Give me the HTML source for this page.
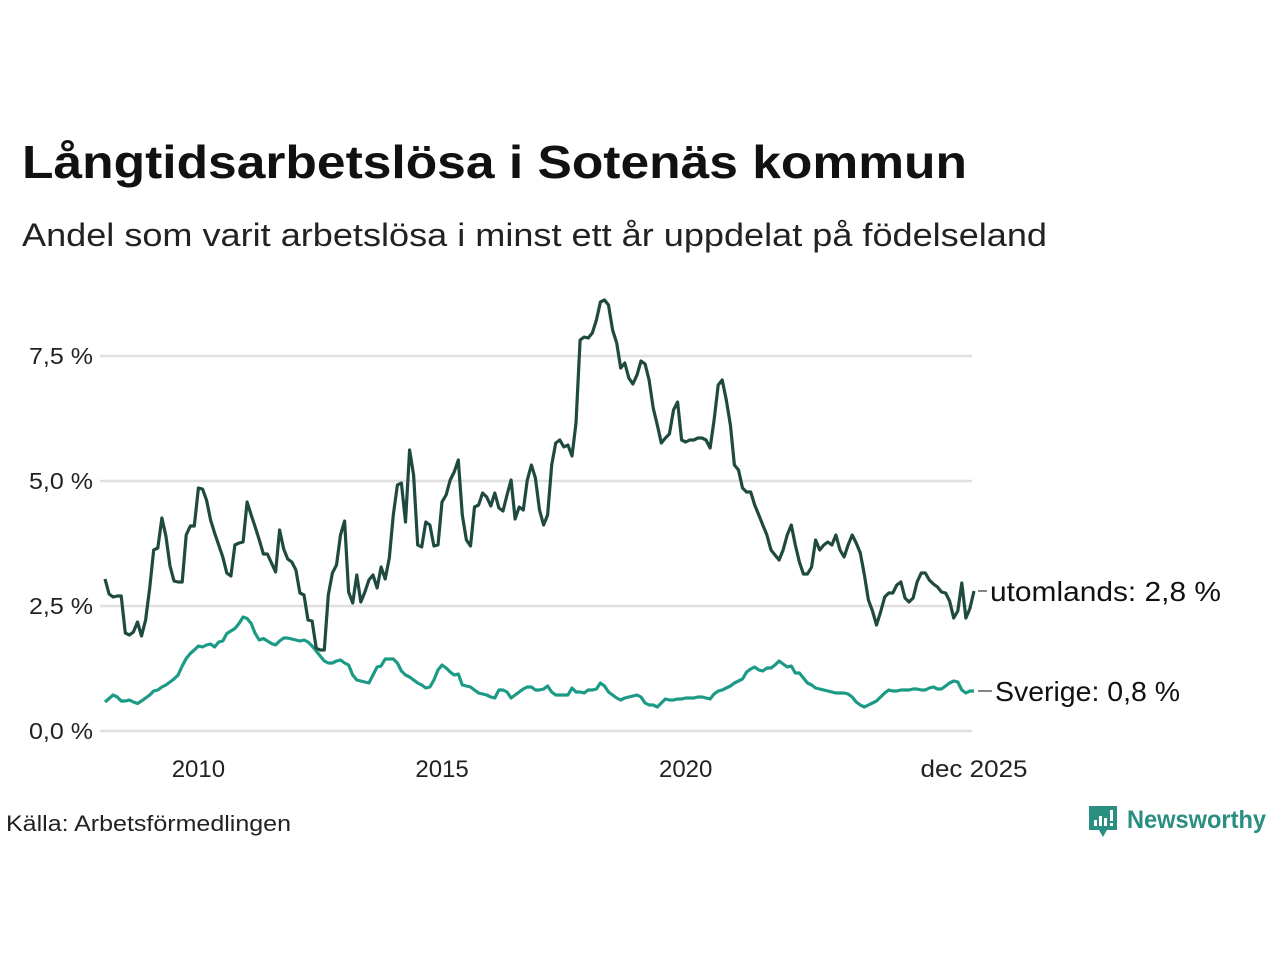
<!DOCTYPE html>
<html><head><meta charset="utf-8"><style>
html,body{margin:0;padding:0;background:#fff;width:1280px;height:960px;overflow:hidden}
svg{display:block;font-family:"Liberation Sans",sans-serif}
</style></head><body>
<svg id="chart" width="1280" height="960" viewBox="0 0 1280 960" xmlns="http://www.w3.org/2000/svg">
<text x="22" y="178" font-size="46" font-weight="bold" fill="#111" textLength="945" lengthAdjust="spacingAndGlyphs">Långtidsarbetslösa i Sotenäs kommun</text>
<text x="22" y="246" font-size="32" fill="#222" textLength="1025" lengthAdjust="spacingAndGlyphs">Andel som varit arbetslösa i minst ett år uppdelat på födelseland</text>
<g id="grid"></g>
<g id="yticks"></g>
<g id="xticks"></g>
<g id="series"></g>
<text x="6" y="831" font-size="22" fill="#222" textLength="285" lengthAdjust="spacingAndGlyphs">Källa: Arbetsförmedlingen</text>
<g>
<path d="M1089 806 h28 v24 h-10 l-4 7 l-4 -7 h-10 z" fill="#2a8f80"/>
<rect x="1094" y="820" width="3" height="6" fill="#fff"/><rect x="1099" y="816" width="3" height="10" fill="#fff"/><rect x="1104" y="818" width="3" height="8" fill="#fff"/><rect x="1110" y="810" width="3" height="11" fill="#fff"/><rect x="1110" y="823" width="3" height="3" fill="#fff"/>
<text x="1127" y="828" font-size="25" font-weight="bold" fill="#2a8f80" textLength="139" lengthAdjust="spacingAndGlyphs">Newsworthy</text>
</g>
</svg>
<script>
const yTicks=[0,2.5,5,7.5];
const yTickLabels=["0,0 %","2,5 %","5,0 %","7,5 %"];
const xTickMonths=[23,83,143,214];
const xTickLabels=["2010","2015","2020","dec 2025"];
const utomlands=[3.04,2.74,2.68,2.7,2.7,1.96,1.92,1.98,2.18,1.9,2.22,2.86,3.62,3.66,4.26,3.9,3.3,3.0,2.98,2.98,3.92,4.1,4.1,4.86,4.84,4.62,4.22,3.96,3.72,3.48,3.16,3.1,3.72,3.76,3.78,4.58,4.32,4.08,3.82,3.54,3.54,3.36,3.18,4.02,3.64,3.44,3.38,3.22,2.76,2.72,2.22,2.2,1.66,1.62,1.62,2.72,3.16,3.32,3.92,4.2,2.78,2.56,3.12,2.58,2.78,3.02,3.12,2.86,3.28,3.04,3.46,4.32,4.92,4.96,4.18,5.62,5.12,3.72,3.68,4.18,4.12,3.7,3.72,4.58,4.72,5.02,5.18,5.42,4.32,3.82,3.7,4.48,4.52,4.76,4.68,4.5,4.76,4.46,4.4,4.72,5.02,4.24,4.48,4.42,5.02,5.32,5.06,4.42,4.12,4.32,5.32,5.76,5.82,5.68,5.72,5.5,6.16,7.82,7.88,7.86,7.96,8.22,8.58,8.62,8.52,8.02,7.76,7.26,7.36,7.06,6.94,7.12,7.4,7.34,7.02,6.46,6.12,5.76,5.86,5.94,6.42,6.58,5.82,5.78,5.82,5.82,5.86,5.86,5.82,5.66,6.22,6.92,7.02,6.62,6.12,5.32,5.22,4.86,4.78,4.78,4.52,4.32,4.12,3.92,3.62,3.52,3.42,3.62,3.92,4.12,3.72,3.38,3.14,3.14,3.28,3.82,3.62,3.72,3.78,3.72,3.92,3.62,3.48,3.72,3.92,3.76,3.56,3.12,2.62,2.4,2.12,2.38,2.68,2.76,2.76,2.92,2.98,2.66,2.58,2.66,2.98,3.16,3.16,3.02,2.94,2.88,2.78,2.76,2.6,2.26,2.4,2.96,2.26,2.45,2.8];
const sverige=[0.58,0.65,0.72,0.68,0.6,0.6,0.62,0.58,0.55,0.6,0.66,0.72,0.8,0.82,0.88,0.92,0.98,1.04,1.12,1.3,1.45,1.55,1.62,1.7,1.68,1.72,1.74,1.68,1.78,1.8,1.95,2.0,2.05,2.15,2.28,2.25,2.15,1.95,1.82,1.85,1.8,1.75,1.72,1.8,1.86,1.86,1.84,1.82,1.8,1.82,1.78,1.7,1.6,1.5,1.4,1.36,1.36,1.4,1.42,1.36,1.32,1.12,1.02,1.0,0.98,0.96,1.12,1.28,1.3,1.44,1.44,1.44,1.36,1.2,1.12,1.08,1.02,0.96,0.92,0.86,0.88,1.02,1.22,1.32,1.26,1.18,1.12,1.14,0.92,0.9,0.88,0.82,0.76,0.74,0.72,0.68,0.66,0.82,0.82,0.78,0.66,0.72,0.78,0.84,0.88,0.88,0.82,0.82,0.84,0.9,0.78,0.72,0.72,0.72,0.72,0.86,0.78,0.78,0.76,0.82,0.82,0.84,0.96,0.9,0.78,0.72,0.66,0.62,0.66,0.68,0.7,0.72,0.68,0.56,0.52,0.52,0.48,0.56,0.64,0.62,0.62,0.64,0.64,0.66,0.66,0.66,0.68,0.68,0.66,0.64,0.74,0.8,0.82,0.86,0.9,0.96,1.0,1.04,1.18,1.24,1.28,1.22,1.2,1.26,1.26,1.32,1.4,1.34,1.28,1.3,1.16,1.16,1.06,0.96,0.92,0.86,0.84,0.82,0.8,0.78,0.76,0.76,0.76,0.74,0.68,0.58,0.52,0.48,0.52,0.56,0.6,0.68,0.76,0.82,0.8,0.8,0.82,0.82,0.82,0.84,0.84,0.82,0.82,0.86,0.88,0.84,0.84,0.9,0.96,1.0,0.98,0.82,0.76,0.8,0.8];
const seriesLabels=["utomlands: 2,8 %","Sverige: 0,8 %"];

const NS="http://www.w3.org/2000/svg";
const X0=105,X1=974,N=214,Y0=731,PX=50;
const xs=i=>X0+(X1-X0)*i/N;
const ys=v=>Y0-v*PX;
function mk(tag,parent){const e=document.createElementNS(NS,tag);document.getElementById(parent).appendChild(e);return e;}

yTicks.forEach((t,k)=>{
  const l=mk('line','grid');
  
  
  l.setAttribute('x1',100);l.setAttribute('x2',972);l.setAttribute('y1',ys(t));l.setAttribute('y2',ys(t));
  l.setAttribute('stroke','#e0e0e0');l.setAttribute('stroke-width','2.5');
  const tx=mk('text','yticks');
  
  
  tx.setAttribute('x',93);tx.setAttribute('y',ys(t)+8);tx.setAttribute('text-anchor','end');
  tx.setAttribute('font-size','23');tx.setAttribute('fill','#222');
  tx.setAttribute('textLength','64');tx.setAttribute('lengthAdjust','spacingAndGlyphs');
  tx.textContent=yTickLabels[k];
});
xTickMonths.forEach((m,k)=>{
  const tx=mk('text','xticks');
  
  
  tx.setAttribute('x',xs(m));tx.setAttribute('y',777);tx.setAttribute('text-anchor','middle');
  tx.setAttribute('font-size','24');tx.setAttribute('fill','#222');
  if(xTickLabels[k].length>4){tx.setAttribute('textLength','107');tx.setAttribute('lengthAdjust','spacingAndGlyphs');}
  tx.textContent=xTickLabels[k];
});
function drawLine(arr,color,name,label,lx,lw){
  const p=mk('path','series');
  
  
  p.setAttribute('d',arr.map((v,i)=>(i?'L':'M')+xs(i).toFixed(1)+' '+ys(v).toFixed(1)).join(''));
  p.setAttribute('fill','none');p.setAttribute('stroke',color);p.setAttribute('stroke-width','3.2');p.setAttribute('stroke-linejoin','round');
  const last=arr[arr.length-1];
  const tk=mk('line','series');
  
  
  tk.setAttribute('x1',978);tk.setAttribute('x2',lx-3);tk.setAttribute('y1',ys(last));tk.setAttribute('y2',ys(last));
  tk.setAttribute('stroke','#333');tk.setAttribute('stroke-width','1.2');
  const t=mk('text','series');
  
  
  t.setAttribute('x',lx);t.setAttribute('y',ys(last)+10);t.setAttribute('font-size','28');t.setAttribute('fill','#111');
  t.setAttribute('textLength',lw);t.setAttribute('lengthAdjust','spacingAndGlyphs');
  t.textContent=label;
}
drawLine(sverige,'#1b9a85','sverige-line',seriesLabels[1],995,185);
drawLine(utomlands,'#1f4a3f','utomlands-line',seriesLabels[0],990,231);
</script>
</body></html>
